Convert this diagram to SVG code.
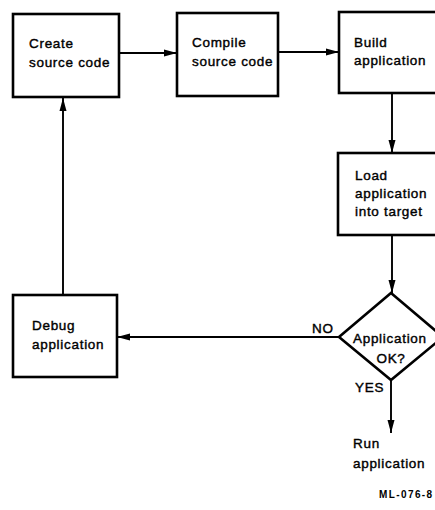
<svg xmlns="http://www.w3.org/2000/svg" width="435" height="510" viewBox="0 0 435 510">
<defs>
<style>
.box{fill:#fff;stroke:#000;stroke-width:2.6}
.t{font-family:"Liberation Sans",Arial,sans-serif;font-size:13.5px;letter-spacing:0.7px;fill:#000;stroke:#000;stroke-width:0.4}
.c{fill:none;stroke:#000;stroke-width:1.9}
.id{font-family:"Liberation Sans",Arial,sans-serif;font-size:10px;font-weight:bold;letter-spacing:1.4px;fill:#000}
</style>
<marker id="ah" markerWidth="13" markerHeight="8" refX="13" refY="4" orient="auto" markerUnits="userSpaceOnUse">
<path d="M0,0.5 L13,4 L0,7.5 Z" fill="#000"/>
</marker>
</defs>
<rect width="435" height="510" fill="#fff"/>
<g id="connectors">
<line class="c" x1="119" y1="53" x2="177" y2="53" marker-end="url(#ah)"/>
<line class="c" x1="278" y1="52" x2="339" y2="52" marker-end="url(#ah)"/>
<line class="c" x1="392" y1="93" x2="392" y2="153" marker-end="url(#ah)"/>
<line class="c" x1="392" y1="235" x2="392" y2="293" marker-end="url(#ah)"/>
<line class="c" x1="339" y1="337" x2="117" y2="337" marker-end="url(#ah)"/>
<line class="c" x1="63" y1="295" x2="63" y2="98" marker-end="url(#ah)"/>
<line class="c" x1="391" y1="380" x2="391" y2="433" marker-end="url(#ah)"/>
<text class="t" x="312" y="333">NO</text>
<text class="t" x="355" y="392">YES</text>
</g>
<g id="create">
<rect class="box" x="13" y="14" width="106" height="83"/>
<text class="t" x="29" y="48">Create</text>
<text class="t" x="29" y="67">source code</text>
</g>
<g id="compile">
<rect class="box" x="177" y="13" width="101" height="83"/>
<text class="t" x="192" y="47">Compile</text>
<text class="t" x="192" y="66">source code</text>
</g>
<g id="build">
<rect class="box" x="339" y="12" width="110" height="81"/>
<text class="t" x="354" y="47">Build</text>
<text class="t" x="354" y="65">application</text>
</g>
<g id="load">
<rect class="box" x="338" y="153" width="110" height="82"/>
<text class="t" x="355" y="180">Load</text>
<text class="t" x="355" y="198">application</text>
<text class="t" x="355" y="216">into target</text>
</g>
<g id="decision">
<polygon class="box" points="391,293 443,337 391,380 339,337"/>
<text class="t" x="353" y="343">Application</text>
<text class="t" x="391" y="363" text-anchor="middle">OK?</text>
</g>
<g id="debug">
<rect class="box" x="13" y="295" width="104" height="82"/>
<text class="t" x="32" y="330">Debug</text>
<text class="t" x="32" y="349">application</text>
</g>
<g id="run">
<text class="t" x="353" y="448">Run</text>
<text class="t" x="353" y="468">application</text>
</g>
<text class="id" x="379" y="498">ML-076-8</text>
</svg>
